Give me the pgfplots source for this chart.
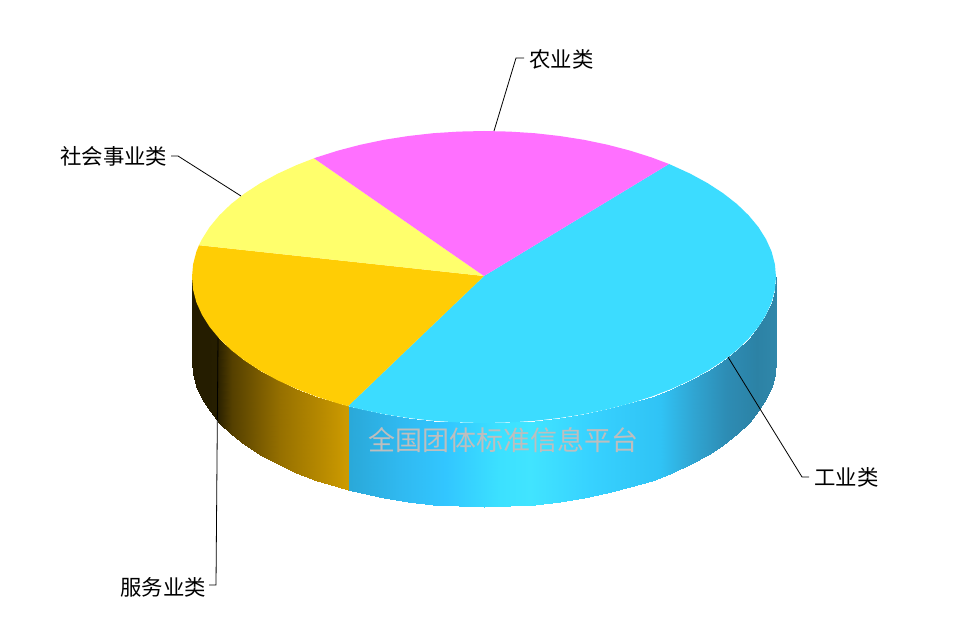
\documentclass[border=0pt]{standalone}
\usepackage{pgfplots}
\pgfplotsset{compat=1.18}
\usepackage{fontspec}
\setmainfont{Noto Sans CJK SC}

\definecolor{toppink}{RGB}{255,112,255}
\definecolor{topyellow}{RGB}{255,255,108}
\definecolor{toporange}{RGB}{255,205,5}
\definecolor{topcyan}{RGB}{60,220,255}

% side shading, positions are pixel x
\pgfplotsset{
  colormap={sideorange}{rgb255(192)=(36,28,0) rgb255(217)=(38,30,0) rgb255(232)=(85,64,0) rgb255(280)=(150,112,0) rgb255(348)=(205,155,0)},
  colormap={sidecyan}{rgb255(348)=(42,168,216) rgb255(400)=(48,185,240) rgb255(445)=(50,198,255) rgb255(500)=(60,225,255) rgb255(530)=(65,228,255) rgb255(590)=(55,210,255) rgb255(660)=(48,195,245) rgb255(693)=(48,165,210) rgb255(727)=(45,140,180) rgb255(757)=(44,130,165) rgb255(776)=(48,135,170)},
}

\begin{document}
\begin{tikzpicture}
\begin{axis}[
  x=1pt,y=1pt,
  xmin=0,xmax=966,ymin=0,ymax=631,
  y dir=reverse,
  hide axis,
  clip=false,
  scale only axis,
  axis background/.style={fill=white},
]
% side wall, cyan slice
\addplot[surf,shader=interp,mesh/rows=2,mesh/ordering=x varies,point meta=x,point meta rel=per plot,colormap name=sidecyan] table {
x y
776 277
774.9 289.7
771.6 302.4
766 314.8
758.4 326.9
748.6 338.7
736.9 350
723.2 360.7
707.7 370.8
690.5 380.2
671.7 388.8
651.5 396.6
630 403.4
607.4 409.3
583.9 414.2
559.6 418
534.7 420.8
509.5 422.4
484 423
458.5 422.4
433.3 420.8
408.4 418
384.1 414.2
360.6 409.3
348 406.2
776 361
774.9 373.7
771.6 386.4
766 398.8
758.4 410.9
748.6 422.7
736.9 434
723.2 444.7
707.7 454.8
690.5 464.2
671.7 472.8
651.5 480.6
630 487.4
607.4 493.3
583.9 498.2
559.6 502
534.7 504.8
509.5 506.4
484 507
458.5 506.4
433.3 504.8
408.4 502
384.1 498.2
360.6 493.3
348 490.2
};
% side wall, orange slice
\addplot[surf,shader=interp,mesh/rows=2,mesh/ordering=x varies,point meta=x,point meta rel=per plot,colormap name=sideorange] table {
x y
348 406.2
338 403.4
316.5 396.6
296.3 388.8
277.5 380.2
260.3 370.8
244.8 360.7
231.1 350
219.4 338.7
209.6 326.9
202 314.8
196.4 302.4
193.1 289.7
192 277
348 490.2
338 487.4
316.5 480.6
296.3 472.8
277.5 464.2
260.3 454.8
244.8 444.7
231.1 434
219.4 422.7
209.6 410.9
202 398.8
196.4 386.4
193.1 373.7
192 361
};
% top faces
\addplot[fill=topcyan,draw=none] coordinates {
(484,276) (669,164) (671.7,165.2) (690.5,173.8) (707.7,183.2) (723.2,193.3) (736.9,204) (748.6,215.3) (758.4,227.1) (766,239.2) (771.6,251.6) (774.9,264.3)
(776,277) (774.9,289.7) (771.6,302.4) (766,314.8) (758.4,326.9) (748.6,338.7) (736.9,350) (723.2,360.7) (707.7,370.8) (690.5,380.2) (671.7,388.8) (651.5,396.6)
(630,403.4) (607.4,409.3) (583.9,414.2) (559.6,418) (534.7,420.8) (509.5,422.4) (484,423) (458.5,422.4) (433.3,420.8) (408.4,418) (384.1,414.2) (360.6,409.3) (348,406.2)
} -- cycle;
\addplot[fill=toporange,draw=none] coordinates {
(484,276) (348,406.2) (338,403.4) (316.5,396.6) (296.3,388.8) (277.5,380.2) (260.3,370.8) (244.8,360.7) (231.1,350) (219.4,338.7) (209.6,326.9) (202,314.8)
(196.4,302.4) (193.1,289.7) (192,277) (193.1,264.3) (196.4,251.6) (199,245.2)
} -- cycle;
\addplot[fill=topyellow,draw=none] coordinates {
(484,276) (199,245.2) (202,239.2) (209.6,227.1) (219.4,215.3) (231.1,204) (244.8,193.3) (260.3,183.2) (277.5,173.8) (296.3,165.2) (314,158.3)
} -- cycle;
\addplot[fill=toppink,draw=none] coordinates {
(484,276) (314,158.3) (316.5,157.4) (338,150.6) (360.6,144.7) (384.1,139.8) (408.4,136) (433.3,133.2) (458.5,131.6) (484,131) (509.5,131.6) (534.7,133.2)
(559.6,136) (583.9,139.8) (607.4,144.7) (630,150.6) (651.5,157.4) (669,164)
} -- cycle;
% leader lines
\addplot[black,line width=0.8pt,no marks] coordinates {(494,131) (516,58) (524,58)};
\addplot[black,line width=0.8pt,no marks] coordinates {(241,196) (178,156) (171,156)};
\addplot[black,line width=0.8pt,no marks] coordinates {(218,338) (216,585) (209,585)};
\addplot[black,line width=0.8pt,no marks] coordinates {(728,357) (802,477) (809,477)};

\node[anchor=west,inner sep=0pt,font=\fontsize{21.4}{21}\selectfont] at (axis cs:529,59) {农业类};
\node[anchor=west,inner sep=0pt,font=\fontsize{21.4}{21}\selectfont] at (axis cs:60,156.6) {社会事业类};
\node[anchor=west,inner sep=0pt,font=\fontsize{21.4}{21}\selectfont] at (axis cs:120,587) {服务业类};
\node[anchor=west,inner sep=0pt,font=\fontsize{21.4}{21}\selectfont] at (axis cs:814,477.6) {工业类};
\node[anchor=center,inner sep=0pt,text={rgb,255:red,190;green,190;blue,190},font=\fontsize{27}{27}\selectfont] at (axis cs:503,440) {全国团体标准信息平台};
\end{axis}
\end{tikzpicture}
\end{document}
